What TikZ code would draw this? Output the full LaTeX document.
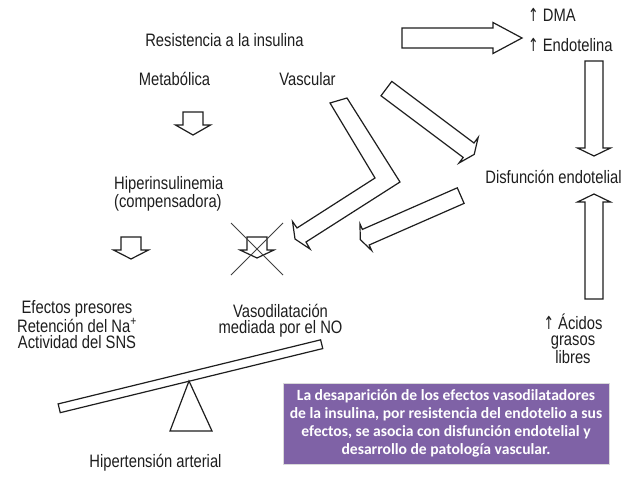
\documentclass[tikz,border=0pt]{standalone}
\usepackage{fontspec}
\usetikzlibrary{calc}
\setmainfont{Liberation Sans}
\newfontfamily\cond{Liberation Sans}[FakeStretch=0.82]
\newfontfamily\condarrow{DejaVu Sans}[FakeStretch=0.7]
\newfontfamily\calib{Carlito}
\newcommand\up{{\condarrow ↑}}
\definecolor{boxpurple}{HTML}{7F62A6}
\definecolor{ink}{HTML}{1E1E1E}
\tikzset{
  lbl/.style={font=\cond\fontsize{18}{15.8}\selectfont, text=ink, inner sep=0pt},
  arr/.style={draw=ink, line width=1.2pt, fill=white, line join=miter},
  xline/.style={draw=ink!85, line width=0.9pt},
  note/.style={fill=boxpurple, draw=black!15, line width=1pt, text=white,
    font=\calib\bfseries\fontsize{15.6}{18.2}\selectfont, align=center,
    minimum width=326pt, minimum height=81pt, inner sep=0pt}
}
\newcommand\blockarr[5]{%
  \coordinate (HB) at ($(#2)!#5!(#1)$);
  \draw[arr] ($(#1)!#3!-90:(#2)$) -- ($(HB)!#3!-90:(#2)$) -- ($(HB)!#4!-90:(#2)$)
    -- (#2) -- ($(HB)!#4!90:(#2)$) -- ($(HB)!#3!90:(#2)$) -- ($(#1)!#3!90:(#2)$) -- cycle;
}
\begin{document}
\begin{tikzpicture}[x=1pt,y=-1pt]
\useasboundingbox[fill=white] (0,0) rectangle (638,479);

% texts (anchor=base of a multi-line node is the last line's baseline)
\node[lbl, anchor=base] (res) at (224.5,46.5) {Resistencia a la insulina};
\node[lbl, anchor=base] (meta) at (174.5,85) {Metabólica};
\node[lbl, anchor=base] (vasc) at (307.5,85) {Vascular};
\node[lbl, anchor=base west, align=left, font=\cond\fontsize{18}{14.8}\selectfont] (hiper) at (114,207.5) {Hiperinsulinemia\\(compensadora)};
\node[lbl, anchor=base, align=center] (efec) at (77,348) {Efectos presores\\Retención del Na\textsuperscript{+}\\Actividad del SNS};
\node[lbl, anchor=base, align=center] (vaso) at (280.5,333) {Vasodilatación\\mediada por el NO};
\node[lbl, anchor=base] (hta) at (155.5,467) {Hipertensión arterial};
\node[lbl, anchor=base] (disf) at (553.5,183) {Disfunción endotelial};
\node[lbl, anchor=base west] (dma) at (528,21) {\up\ DMA};
\node[lbl, anchor=base west] (endo) at (528,52) {\up\ Endotelina};
\node[lbl, anchor=base, align=center] (acid) at (573,363) {\up\ Ácidos\\grasos\\libres};

% arrow end points
\coordinate (m1) at (193,112); \coordinate (m2) at (193,135);
\coordinate (h1) at (131,237); \coordinate (h2) at (131,259);
\coordinate (c1) at (257,237); \coordinate (c2) at (257,258);
\coordinate (t1) at (402,38);  \coordinate (t2) at (522,38);
\coordinate (d1) at (594,61);  \coordinate (d2) at (594,156);
\coordinate (u1) at (594,299); \coordinate (u2) at (594,194);
\coordinate (a1) at (386.4,88.6); \coordinate (a2) at (474.2,154.4);
\coordinate (b1) at (460.7,195.6); \coordinate (b2) at (360.3,239.6);

\blockarr{m1}{m2}{10pt}{17.5pt}{10pt}
\blockarr{h1}{h2}{10pt}{17.5pt}{9pt}
\blockarr{c1}{c2}{10pt}{17pt}{8pt}
\blockarr{t1}{t2}{10pt}{15.5pt}{29pt}
\blockarr{d1}{d2}{9pt}{16.5pt}{8pt}
\blockarr{u1}{u2}{9pt}{16.5pt}{8pt}
\blockarr{a1}{a2}{9pt}{16pt}{7pt}
\blockarr{b1}{b2}{8.5pt}{14.5pt}{6pt}

% bent arrow
\draw[arr] (347,98) -- (400,182) -- (306,242) -- (310,249) -- (295,239)
  -- (292.5,221.5) -- (297,228) -- (375,178) -- (330,103) -- cycle;

% cross over the arrow
\draw[xline] (231,223) -- (283,275);
\draw[xline] (283,223) -- (231,275);

% seesaw
\coordinate (p1) at (59.2,408.3); \coordinate (p2) at (321.7,344.2);
\draw[arr] ($(p1)!4.5pt!90:(p2)$) -- ($(p2)!4.5pt!-90:(p1)$) -- ($(p2)!4.5pt!90:(p1)$) -- ($(p1)!4.5pt!-90:(p2)$) -- cycle;
\draw[arr] (189,381) -- (212,431) -- (170,431) -- cycle;

% note box
\node[note] (box) at (446,423.5) {La desaparición de los efectos vasodilatadores\\de la insulina, por resistencia del endotelio a sus\\efectos, se asocia con disfunción endotelial y\\desarrollo de patología vascular.};
\end{tikzpicture}
\end{document}
